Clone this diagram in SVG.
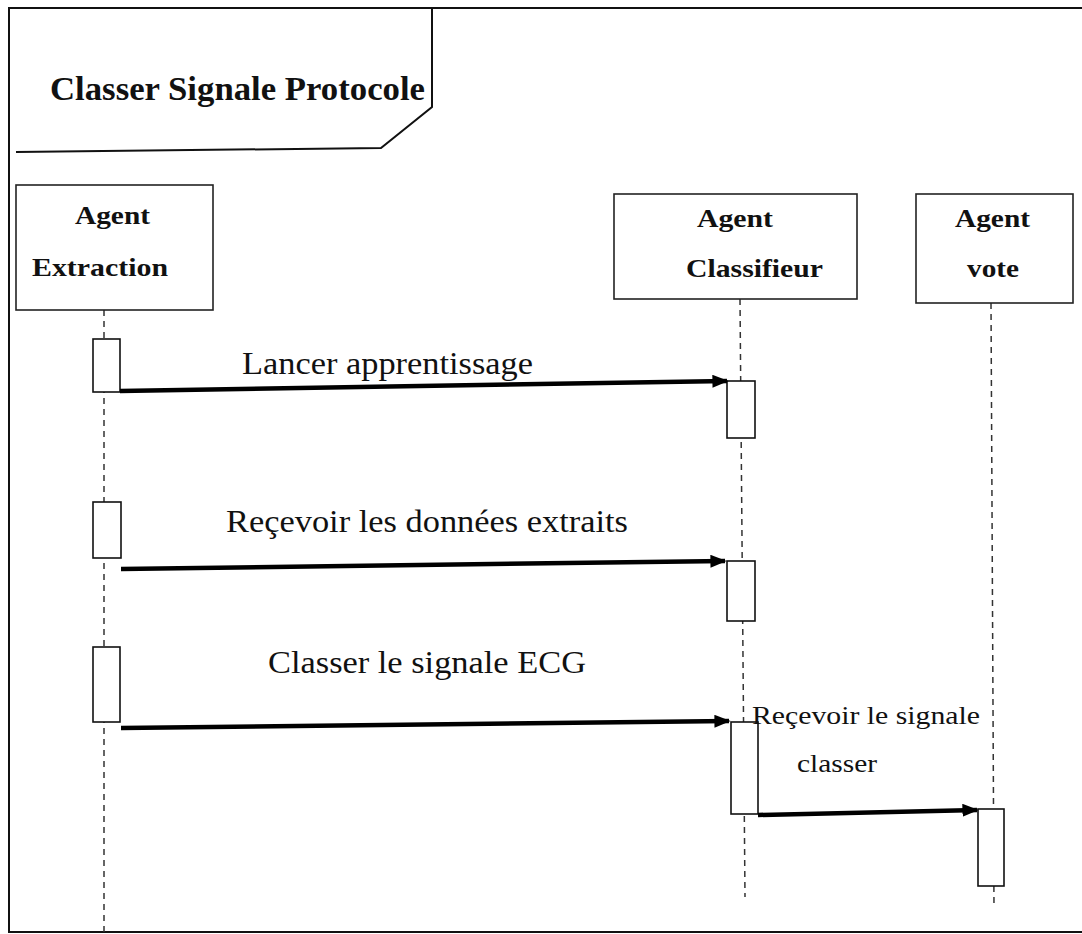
<svg xmlns="http://www.w3.org/2000/svg" width="1082" height="934" viewBox="0 0 1082 934">
  <style>
    .frame { fill: none; stroke: #111; stroke-width: 2; }
    .box { fill: #fff; stroke: #222; stroke-width: 1.6; }
    .act { fill: #fff; stroke: #111; stroke-width: 1.6; }
    .life { fill: none; stroke: #333; stroke-width: 1.5; stroke-dasharray: 6 5; }
    .msg { fill: none; stroke: #000; stroke-width: 4.5; marker-end: url(#head); }
    text { font-family: "Times New Roman", "Liberation Serif", Tinos, Times, serif; fill: #111; }
    .agent { font-weight: bold; font-size: 26px; }
    .title { font-weight: bold; font-size: 33px; }
    .label { font-size: 31px; }
    .small { font-size: 26px; }
  </style>
  <defs>
    <marker id="head" viewBox="0 0 10 8" refX="9" refY="4" markerWidth="3.6" markerHeight="2.9" orient="auto" markerUnits="strokeWidth">
      <path d="M0,0 L10,4 L0,8 Z" fill="#000"/>
    </marker>
  </defs>
  <rect width="1082" height="934" fill="#fff"/>

  <!-- outer frame and its name tab -->
  <g id="frame">
    <path class="frame" d="M1090,8 L9,8 L9,932 L1090,932"/>
    <path class="frame" d="M432,8 L432,107 L381,148 L16,152" stroke-width="1.8"/>
    <text class="title" x="50" y="100" textLength="375" lengthAdjust="spacingAndGlyphs">Classer Signale Protocole</text>
  </g>

  <!-- lifelines -->
  <g id="lifelines">
    <line class="life" x1="104" y1="310" x2="104" y2="932"/>
    <line class="life" x1="740" y1="299" x2="745" y2="897"/>
    <line class="life" x1="991" y1="303" x2="994" y2="908"/>
  </g>

  <!-- participants -->
  <g id="agent-extraction">
    <rect class="box" x="16" y="185" width="197" height="125"/>
    <text class="agent" x="75" y="224" textLength="75" lengthAdjust="spacingAndGlyphs">Agent</text>
    <text class="agent" x="32" y="276" textLength="136" lengthAdjust="spacingAndGlyphs">Extraction</text>
  </g>
  <g id="agent-classifieur">
    <rect class="box" x="614" y="194" width="243" height="105"/>
    <text class="agent" x="697" y="227" textLength="76" lengthAdjust="spacingAndGlyphs">Agent</text>
    <text class="agent" x="686" y="277" textLength="137" lengthAdjust="spacingAndGlyphs">Classifieur</text>
  </g>
  <g id="agent-vote">
    <rect class="box" x="916" y="194" width="157" height="109"/>
    <text class="agent" x="955" y="227" textLength="75" lengthAdjust="spacingAndGlyphs">Agent</text>
    <text class="agent" x="967" y="277" textLength="52" lengthAdjust="spacingAndGlyphs">vote</text>
  </g>

  <!-- activation bars -->
  <g id="activations">
    <rect class="act" x="93" y="339" width="27" height="53"/>
    <rect class="act" x="93" y="502" width="28" height="56"/>
    <rect class="act" x="93" y="647" width="27" height="75"/>
    <rect class="act" x="727" y="381" width="28" height="57"/>
    <rect class="act" x="727" y="561" width="28" height="60"/>
    <rect class="act" x="731" y="722" width="27" height="92"/>
    <rect class="act" x="978" y="809" width="26" height="77"/>
  </g>

  <!-- messages -->
  <g id="connectors">
    <line class="msg" x1="120" y1="391" x2="727" y2="381"/>
    <line class="msg" x1="121" y1="569" x2="725" y2="561"/>
    <line class="msg" x1="121" y1="728" x2="729" y2="721"/>
    <line class="msg" x1="758" y1="815" x2="977" y2="810"/>
  </g>

  <g id="labels">
    <text class="label" x="242" y="374" textLength="291" lengthAdjust="spacingAndGlyphs">Lancer apprentissage</text>
    <text class="label" x="226" y="532" textLength="402" lengthAdjust="spacingAndGlyphs">Reçevoir les données extraits</text>
    <text class="label" x="268" y="673" textLength="318" lengthAdjust="spacingAndGlyphs">Classer le signale ECG</text>
    <text class="small" x="752" y="724" textLength="228" lengthAdjust="spacingAndGlyphs">Reçevoir le signale</text>
    <text class="small" x="797" y="772" textLength="80" lengthAdjust="spacingAndGlyphs">classer</text>
  </g>
</svg>
